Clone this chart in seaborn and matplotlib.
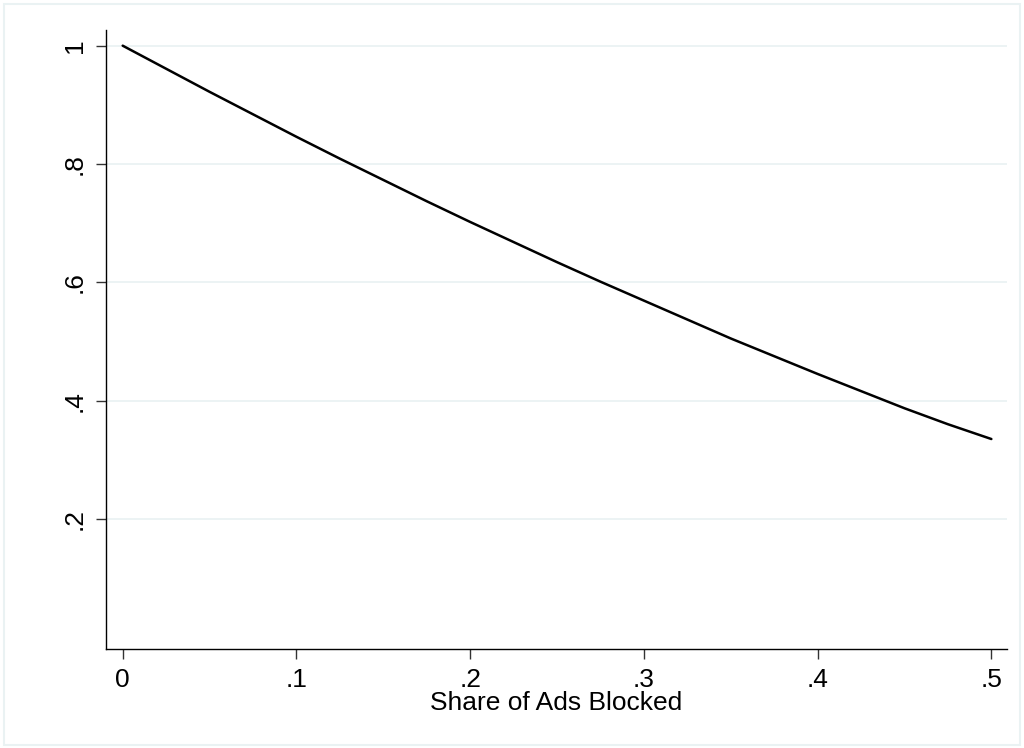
import seaborn as sns
import matplotlib.pyplot as plt
import pandas as pd
from matplotlib.patches import Rectangle

# values
share_blocked = [0.0, 0.025, 0.05, 0.075, 0.1, 0.125, 0.15, 0.175, 0.2, 0.225, 0.25,
                 0.275, 0.3, 0.325, 0.35, 0.375, 0.4, 0.425, 0.45, 0.475, 0.5]
ratio = [1.000, 0.961, 0.922, 0.884, 0.846, 0.809, 0.773, 0.737, 0.702, 0.668, 0.634,
         0.601, 0.569, 0.537, 0.505, 0.475, 0.445, 0.416, 0.387, 0.360, 0.335]
x_ticks = [0, 0.1, 0.2, 0.3, 0.4, 0.5]
x_labels = ["0", ".1", ".2", ".3", ".4", ".5"]
y_ticks = [0.2, 0.4, 0.6, 0.8, 1.0]
y_labels = [".2", ".4", ".6", ".8", "1"]

df = pd.DataFrame({"share": share_blocked, "ratio": ratio})

sns.set_style("white")
plt.rcParams["font.family"] = ["Liberation Sans", "DejaVu Sans"]
plt.rcParams["text.color"] = "black"
plt.rcParams["xtick.labelcolor"] = "black"
plt.rcParams["ytick.labelcolor"] = "black"
plt.rcParams["axes.labelcolor"] = "black"

fig = plt.figure(figsize=(10.24, 7.48), dpi=100)
ax = fig.add_axes([106 / 1024, 1 - 649 / 748, 901 / 1024, 619 / 748])

# stata-like outer border
fig.patches.append(Rectangle((4 / 1024, 3 / 748), 1016 / 1024, 741 / 748,
                             transform=fig.transFigure, fill=False,
                             edgecolor="#EAF2F3", linewidth=1.5))

sns.lineplot(df, x="share", y="ratio", color="black", linewidth=1.8, ax=ax)

ax.set_xlim(-0.0096, 0.509)
ax.set_ylim(-0.02, 1.0265)
for y in y_ticks:
    ax.axhline(y, color="#EAF2F3", linewidth=1.3, zorder=0)

ax.set_xticks(x_ticks)
ax.set_xticklabels(x_labels)
ax.set_yticks(y_ticks)
ax.set_yticklabels(y_labels, rotation=90, va="center")
ax.tick_params(axis="both", length=7, width=1, color="#333333", labelsize=19,
               labelcolor="black", direction="out", pad=7, left=True, bottom=True)

sns.despine(ax=ax)
for s in ["left", "bottom"]:
    ax.spines[s].set_color("black")
    ax.spines[s].set_linewidth(1)

ax.set_xlabel("Share of Ads Blocked", fontsize=19, labelpad=-1, color="black")
ax.set_ylabel("")

fig.savefig("out.png", dpi=100)
